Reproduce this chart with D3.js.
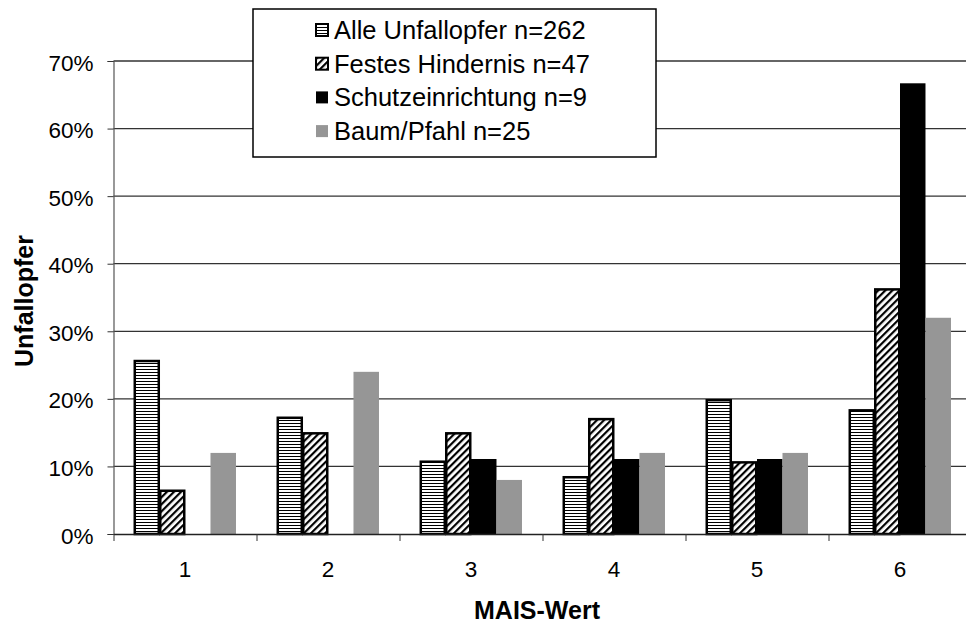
<!DOCTYPE html>
<html>
<head>
<meta charset="utf-8">
<script src="https://cdn.jsdelivr.net/npm/d3@7"></script>
<style>
  body { margin: 0; background: #fff; }
  #chart text { font-family: 'Liberation Sans', Arial, sans-serif; fill: #000; }
</style>
</head>
<body>
<div id="chart"></div>
<script>
// MAIS categories and the four series (percent of accident victims)
const maisValues = ['1', '2', '3', '4', '5', '6'];
const seriesNames = ['Alle Unfallopfer n=262', 'Festes Hindernis n=47', 'Schutzeinrichtung n=9', 'Baum/Pfahl n=25'];
const alleUnfallopfer = [25.6, 17.2, 10.7, 8.4, 19.8, 18.3];
const festesHindernis = [6.4, 14.9, 14.9, 17.0, 10.6, 36.2];
const schutzeinrichtung = [0, 0, 11.1, 11.1, 11.1, 66.7];
const baumPfahl = [12, 24, 8, 12, 12, 32];
const yTicks = [0, 10, 20, 30, 40, 50, 60, 70];

const seriesValues = [alleUnfallopfer, festesHindernis, schutzeinrichtung, baumPfahl];
const fills = ['url(#stripes)', 'url(#hatch)', '#000', '#969696'];
const outlined = [true, true, false, false];

const width = 966;
const height = 628;
const margin = { top: 61, left: 113.5, bottom: 534 };
const plotRight = 113.5 + 6 * 143;

const svg = d3.select('#chart').append('svg')
  .attr('width', width)
  .attr('height', height);

// Fill patterns
const defs = svg.append('defs');
const stripes = defs.append('pattern')
  .attr('id', 'stripes')
  .attr('patternUnits', 'userSpaceOnUse')
  .attr('width', 6)
  .attr('height', 3);
stripes.append('rect').attr('width', 6).attr('height', 3).attr('fill', '#fff');
stripes.append('rect').attr('width', 6).attr('height', 1).attr('fill', '#000');

const hatch = defs.append('pattern')
  .attr('id', 'hatch')
  .attr('patternUnits', 'userSpaceOnUse')
  .attr('width', 5)
  .attr('height', 5)
  .attr('patternTransform', 'rotate(45)');
hatch.append('rect').attr('width', 5).attr('height', 5).attr('fill', '#fff');
hatch.append('rect').attr('width', 2.2).attr('height', 5).attr('fill', '#000');

// Scales
const x0 = d3.scaleBand()
  .domain(maisValues)
  .range([margin.left, plotRight])
  .paddingInner(0.287)
  .paddingOuter(0.1435);
const x1 = d3.scaleBand()
  .domain(d3.range(seriesNames.length))
  .range([0, x0.bandwidth()]);
const y = d3.scaleLinear()
  .domain([0, 70])
  .range([margin.bottom, margin.top]);
const boundary = d3.scaleLinear()
  .domain([0, 6])
  .range([margin.left, plotRight]);

// Gridlines
svg.append('g')
  .selectAll('line')
  .data(yTicks.slice(1))
  .join('line')
  .attr('x1', margin.left)
  .attr('x2', plotRight)
  .attr('y1', d => y(d))
  .attr('y2', d => y(d))
  .attr('stroke', '#333')
  .attr('stroke-width', 1.3);

// Bars
const groups = svg.append('g')
  .selectAll('g')
  .data(maisValues)
  .join('g')
  .attr('transform', d => `translate(${x0(d)},0)`);

groups.selectAll('rect')
  .data((d, i) => seriesValues.map((s, k) => ({ k: k, v: s[i] })))
  .join('rect')
  .filter(d => d.v > 0)
  .attr('x', d => x1(d.k) + (outlined[d.k] ? 0.75 : 0))
  .attr('y', d => y(d.v))
  .attr('width', d => x1.bandwidth() - (outlined[d.k] ? 1.5 : 0))
  .attr('height', d => y(0) - y(d.v))
  .attr('fill', d => fills[d.k])
  .attr('stroke', d => outlined[d.k] ? '#000' : 'none')
  .attr('stroke-width', 2.5);

// Y axis
const yAxis = svg.append('g')
  .attr('transform', `translate(${margin.left},0)`)
  .call(d3.axisLeft(y).tickValues(yTicks).tickFormat(d => d + '%').tickSize(6).tickPadding(14));
yAxis.selectAll('text').attr('font-size', 22.5).attr('dy', '0.4em');
yAxis.selectAll('line').attr('stroke', '#333');
yAxis.select('.domain').attr('stroke', '#555').attr('stroke-width', 1.2);

// X axis: boundary ticks plus centered labels
const xTicks = svg.append('g')
  .attr('transform', `translate(0,${margin.bottom})`)
  .call(d3.axisBottom(boundary).tickValues(d3.range(7)).tickFormat('').tickSize(7).tickSizeOuter(0));
xTicks.selectAll('line').attr('stroke', '#333');
xTicks.select('.domain').attr('stroke', '#222').attr('stroke-width', 1.5);

const xLabels = svg.append('g')
  .attr('transform', `translate(0,${margin.bottom})`)
  .call(d3.axisBottom(x0).tickSize(0).tickPadding(27));
xLabels.select('.domain').remove();
xLabels.selectAll('text').attr('font-size', 22.5);

// Axis titles
svg.append('text')
  .attr('x', 537)
  .attr('y', 619)
  .attr('text-anchor', 'middle')
  .attr('font-size', 25)
  .attr('font-weight', 'bold')
  .text('MAIS-Wert');
svg.append('text')
  .attr('transform', 'translate(33,301) rotate(-90)')
  .attr('text-anchor', 'middle')
  .attr('font-size', 25)
  .attr('font-weight', 'bold')
  .text('Unfallopfer');

// Legend
const legend = svg.append('g');
legend.append('rect')
  .attr('x', 253)
  .attr('y', 9)
  .attr('width', 403)
  .attr('height', 148)
  .attr('fill', '#fff')
  .attr('stroke', '#000')
  .attr('stroke-width', 1.5);

const legendItems = legend.selectAll('.legend')
  .data(seriesNames)
  .join('g')
  .attr('class', 'legend')
  .attr('transform', (d, i) => `translate(315, ${39 + i * 33.7})`);

legendItems.append('rect')
  .attr('x', 1)
  .attr('y', -15)
  .attr('width', 12)
  .attr('height', 12)
  .attr('fill', (d, i) => fills[i])
  .attr('stroke', (d, i) => outlined[i] ? '#000' : 'none')
  .attr('stroke-width', 2);

legendItems.append('text')
  .attr('x', 19)
  .attr('y', 0)
  .attr('font-size', 25.5)
  .text(d => d);
</script>
</body>
</html>
